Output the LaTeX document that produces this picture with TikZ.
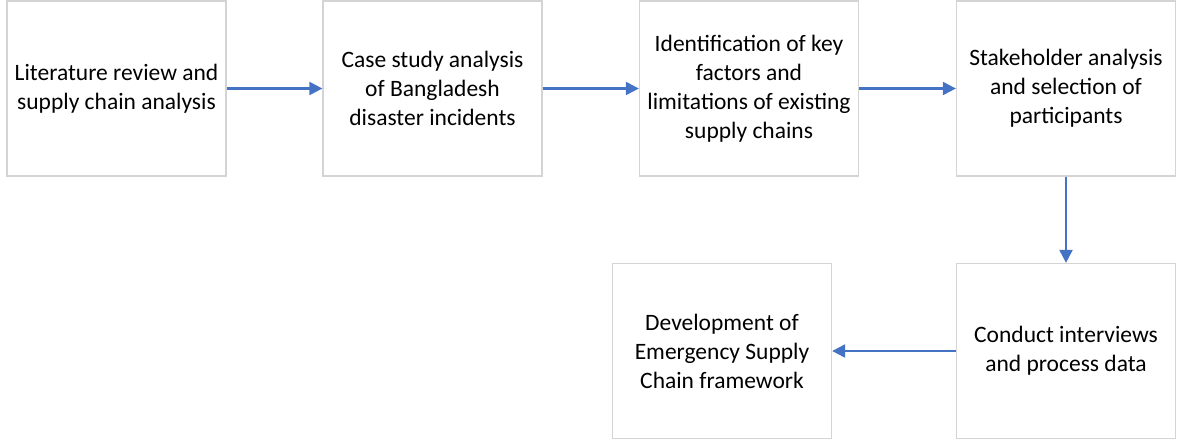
\documentclass[tikz,border=0pt]{standalone}
\usepackage{fontspec}
\setmainfont{Carlito}
\usetikzlibrary{arrows.meta}
\definecolor{boxline}{HTML}{D4D4D4}
\definecolor{flowblue}{HTML}{4472C4}
\begin{document}
\begin{tikzpicture}[x=1pt,y=-1pt,
  stepbox/.style={draw=boxline, line width=1.3pt, fill=white,
    minimum width=219pt, minimum height=175pt, inner sep=0pt,
    align=center, font=\fontsize{23.5}{29}\selectfont, text=black},
  flow/.style={draw=flowblue, line width=2.2pt,
    -{Triangle[length=13pt,width=13pt]}}]
  \useasboundingbox (0,0) rectangle (1177,440);
  % top row
  \node[stepbox] (lit)   at (116.5,88.5)  {Literature review and\\supply chain analysis};
  \node[stepbox] (case)  at (432.5,88.5)  {Case study analysis\\of Bangladesh\\disaster incidents};
  \node[stepbox] (ident) at (749,88.5)    {Identification of key\\factors and\\limitations of existing\\supply chains};
  \node[stepbox] (stake) at (1066,88.5)   {Stakeholder analysis\\and selection of\\participants};
  % bottom row
  \node[stepbox] (intv)  at (1066,351)    {Conduct interviews\\and process data};
  \node[stepbox] (dev)   at (722,351)     {Development of\\Emergency Supply\\Chain framework};
  % connectors
  \draw[flow] (lit.east)   -- (case.west);
  \draw[flow] (case.east)  -- (ident.west);
  \draw[flow] (ident.east) -- (stake.west);
  \draw[flow] (stake.south) -- (intv.north);
  \draw[flow] (intv.west)  -- (dev.east);
\end{tikzpicture}
\end{document}
